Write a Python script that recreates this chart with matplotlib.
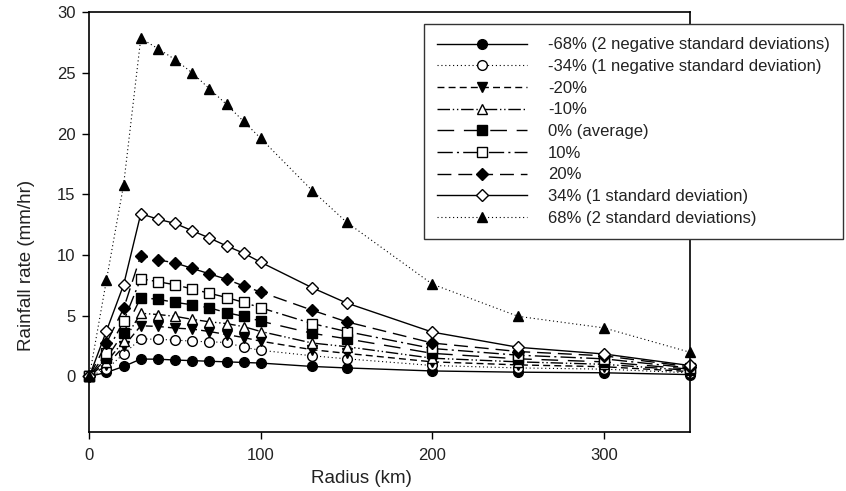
import matplotlib
matplotlib.use("Agg")
import matplotlib.pyplot as plt

plt.rcParams["font.family"] = ["Liberation Sans", "DejaVu Sans"]

# radius (km) and rainfall rate (mm/hr) per percentile scenario
radius = [0, 10, 20, 30, 40, 50, 60, 70, 80, 90, 100, 130, 150, 200, 250, 300, 350]

neg68 = [0, 0.33, 0.82, 1.43, 1.42, 1.35, 1.3, 1.25, 1.2, 1.15, 1.1, 0.82, 0.7, 0.45, 0.35, 0.3, 0.15]
neg34 = [0, 0.6, 1.85, 3.1, 3.05, 3.0, 2.9, 2.85, 2.8, 2.4, 2.15, 1.7, 1.45, 0.9, 0.7, 0.6, 0.3]
neg20 = [0, 0.9, 2.47, 4.17, 4.12, 3.98, 3.9, 3.7, 3.45, 3.2, 2.9, 2.2, 1.9, 1.2, 0.95, 0.8, 0.4]
neg10 = [0, 1.2, 2.9, 5.2, 5.1, 4.95, 4.7, 4.5, 4.35, 4.1, 3.7, 2.75, 2.45, 1.5, 1.2, 1.0, 0.5]
avg0 = [0, 1.5, 3.6, 6.5, 6.35, 6.1, 5.9, 5.65, 5.25, 4.95, 4.55, 3.55, 3.1, 1.9, 1.45, 1.2, 0.6]
pos10 = [0, 1.95, 4.55, 8.05, 7.8, 7.55, 7.2, 6.85, 6.5, 6.1, 5.65, 4.35, 3.7, 2.3, 1.75, 1.45, 0.7]
pos20 = [0, 2.75, 5.6, 9.95, 9.6, 9.35, 8.9, 8.45, 8.0, 7.45, 6.95, 5.45, 4.5, 2.75, 2.05, 1.7, 0.8]
pos34 = [0, 3.75, 7.55, 13.4, 12.95, 12.6, 12.0, 11.4, 10.75, 10.15, 9.4, 7.3, 6.05, 3.65, 2.4, 1.85, 0.9]
pos68 = [0, 7.95, 15.8, 27.85, 27.0, 26.1, 25.0, 23.7, 22.4, 21.0, 19.6, 15.3, 12.7, 7.6, 4.95, 4.0, 2.0]

labels = [
    "-68% (2 negative standard deviations)",
    "-34% (1 negative standard deviation)",
    "-20%",
    "-10%",
    "0% (average)",
    "10%",
    "20%",
    "34% (1 standard deviation)",
    "68% (2 standard deviations)",
]
series = [neg68, neg34, neg20, neg10, avg0, pos10, pos20, pos34, pos68]

# (marker, filled, dash pattern or None for solid, linewidth, markersize)
styles = [
    ("o", True, None, 1.0, 7),
    ("o", False, (1, 2.5), 0.8, 7),
    ("v", True, (5, 3), 1.0, 7.5),
    ("^", False, (9, 2, 1, 2, 1, 2), 1.0, 7.5),
    ("s", True, (12, 7), 1.0, 6.5),
    ("s", False, (11, 3, 1.5, 3), 1.0, 6.5),
    ("D", True, (10, 5), 1.0, 6.5),
    ("D", False, None, 1.0, 6.5),
    ("^", True, (1, 2.5), 0.8, 7.5),
]

fig = plt.figure(figsize=(8.46, 4.91), dpi=100)
ax = fig.add_axes([0.1056, 0.1196, 0.7095, 0.8556])

for y, lab, (m, filled, dash, lw, ms) in zip(series, labels, styles):
    line, = ax.plot(radius, y, color="black", linewidth=lw, marker=m,
                    markersize=ms, markeredgewidth=1.0,
                    markerfacecolor="black" if filled else "white",
                    markeredgecolor="black", label=lab, clip_on=False)
    if dash is not None:
        line.set_dashes(dash)

ax.set_xlim(0, 350)
ax.set_ylim(-4.6, 30)
ax.set_xticks([0, 100, 200, 300])
ax.set_yticks([0, 5, 10, 15, 20, 25, 30])
ax.tick_params(direction="out", length=5, width=1, labelsize=12,
               colors="black", labelcolor="#222222", pad=6)
ax.tick_params(axis="y", pad=5)
for sp in ax.spines.values():
    sp.set_linewidth(1.2)

ax.set_xlabel("Radius (km)", fontsize=13.5, color="#222222")
ax.set_ylabel("Rainfall rate (mm/hr)", fontsize=13.5, color="#222222")
ax.xaxis.set_label_coords(0.4535, -0.09)
ax.yaxis.set_label_coords(-0.09, 0.398)

leg = fig.legend(loc="upper left", bbox_to_anchor=(0.501, 0.951),
                 bbox_transform=fig.transFigure, borderaxespad=0,
                 fontsize=12, numpoints=1, handlelength=5.4,
                 handletextpad=1.25, labelspacing=0.4, borderpad=0.8,
                 fancybox=False, framealpha=1, edgecolor="#333333")
leg.get_frame().set_linewidth(1.0)
for t in leg.get_texts():
    t.set_color("#222222")

fig.savefig("out.png", dpi=100)
